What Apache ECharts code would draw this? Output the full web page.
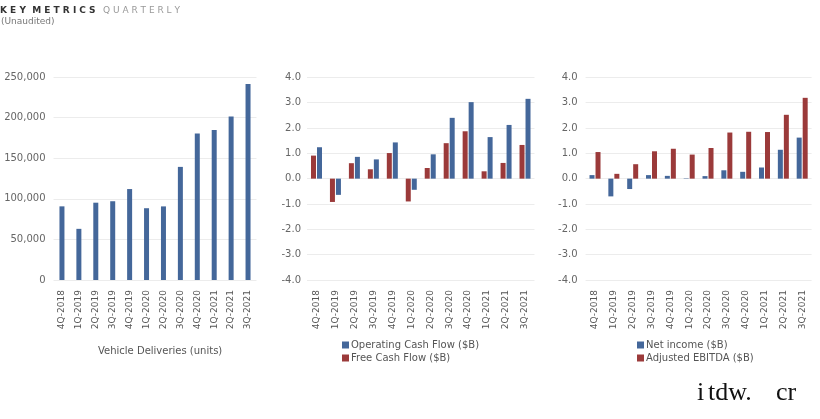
<!DOCTYPE html>
<html><head><meta charset="utf-8">
<script src="https://cdn.jsdelivr.net/npm/echarts@6/dist/echarts.min.js"></script>
<style>html,body{margin:0;padding:0;background:#fff}#c{width:820px;height:419px}</style>
</head><body><div id="c"></div>
<script>
const quarters = ['4Q-2018','1Q-2019','2Q-2019','3Q-2019','4Q-2019','1Q-2020','2Q-2020','3Q-2020','4Q-2020','1Q-2021','2Q-2021','3Q-2021'];
const deliveries = [90700, 63000, 95200, 97000, 112000, 88400, 90650, 139300, 180570, 184800, 201250, 241300];
const operatingCashFlow = [1.24, -0.64, 0.86, 0.76, 1.43, -0.44, 0.96, 2.40, 3.02, 1.64, 2.12, 3.15];
const freeCashFlow = [0.91, -0.92, 0.61, 0.37, 1.01, -0.90, 0.42, 1.40, 1.87, 0.29, 0.62, 1.33];
const netIncome = [0.14, -0.70, -0.41, 0.14, 0.11, 0.016, 0.10, 0.33, 0.27, 0.44, 1.14, 1.62];
const adjustedEbitda = [1.05, 0.19, 0.57, 1.08, 1.18, 0.95, 1.21, 1.82, 1.85, 1.84, 2.52, 3.19];

const BLUE = '#44679a', RED = '#9b3a3a';
const FONT = 'DejaVu Sans';
const chart = echarts.init(document.getElementById('c'));
function xAx(i){return {type:'category',gridIndex:i,data:quarters,axisLine:{show:false,onZero:false},axisTick:{show:false},
  axisLabel:{rotate:90,fontSize:9,color:'#555',fontFamily:FONT,margin:10,interval:0}};}
function yAx(i,o){return Object.assign({type:'value',gridIndex:i,axisLine:{show:false},axisTick:{show:false},
  splitLine:{lineStyle:{color:'#ececec'}}},o);}
const sp = s => s.split('').join(' ');
const lbl = (m,f) => ({fontSize:10,color:'#666',fontFamily:FONT,margin:m,formatter:f});
chart.setOption({
  animation:false,
  textStyle:{fontFamily:FONT},
  graphic:[
    {type:'text',left:0,top:6,style:{text:sp('KEY')+'  '+sp('METRICS'),font:'bold 9px "DejaVu Sans"',fill:'#333'}},
    {type:'text',left:103,top:6,style:{text:sp('QUARTERLY'),font:'9px "DejaVu Sans"',fill:'#999'}},
    {type:'text',left:1,top:17,style:{text:'(Unaudited)',font:'9px "DejaVu Sans"',fill:'#777'}},
    {type:'text',left:98,top:346,style:{text:'Vehicle Deliveries (units)',font:'10px "DejaVu Sans"',fill:'#555'}},
    {type:'group',left:697,top:380,children:[
      {type:'text',x:0,y:0,style:{text:'i',font:'26px "Liberation Serif"',fill:'#111'}},
      {type:'text',x:11,y:0,style:{text:'tdw.',font:'26px "Liberation Serif"',fill:'#111'}},
      {type:'text',x:79,y:0,style:{text:'cr',font:'26px "Liberation Serif"',fill:'#111'}}
    ]}
  ],
  legend:[
    {left:337,top:335,orient:'vertical',itemWidth:7,itemHeight:7,itemGap:3,icon:'rect',
     data:['Operating Cash Flow ($B)','Free Cash Flow ($B)'],textStyle:{fontSize:10,color:'#555',fontFamily:FONT,padding:[0,0,0,-3]}},
    {left:632,top:335,orient:'vertical',itemWidth:7,itemHeight:7,itemGap:3,icon:'rect',
     data:['Net income ($B)','Adjusted EBITDA ($B)'],textStyle:{fontSize:10,color:'#555',fontFamily:FONT,padding:[0,0,0,-3]}}
  ],
  grid:[
    {left:53.5,top:77,width:203,height:203},
    {left:307,top:77.3,width:227.5,height:202.7},
    {left:585.6,top:77.3,width:226,height:202.7}
  ],
  xAxis:[xAx(0),xAx(1),xAx(2)],
  yAxis:[
    yAx(0,{min:0,max:250000,interval:50000,axisLabel:lbl(8,v=>v.toLocaleString('en-US'))}),
    yAx(1,{min:-4,max:4,interval:1,axisLabel:lbl(6,v=>v.toFixed(1))}),
    yAx(2,{min:-4,max:4,interval:1,axisLabel:lbl(8,v=>v.toFixed(1))})
  ],
  series:[
    {name:'Vehicle Deliveries (units)',type:'bar',xAxisIndex:0,yAxisIndex:0,data:deliveries,barWidth:5,itemStyle:{color:BLUE}},
    {name:'Free Cash Flow ($B)',type:'bar',xAxisIndex:1,yAxisIndex:1,data:freeCashFlow,barWidth:5,barGap:'20%',itemStyle:{color:RED}},
    {name:'Operating Cash Flow ($B)',type:'bar',xAxisIndex:1,yAxisIndex:1,data:operatingCashFlow,barWidth:5,barGap:'20%',itemStyle:{color:BLUE}},
    {name:'Net income ($B)',type:'bar',xAxisIndex:2,yAxisIndex:2,data:netIncome,barWidth:5,barGap:'20%',itemStyle:{color:BLUE}},
    {name:'Adjusted EBITDA ($B)',type:'bar',xAxisIndex:2,yAxisIndex:2,data:adjustedEbitda,barWidth:5,barGap:'20%',itemStyle:{color:RED}}
  ]
});
</script></body></html>
